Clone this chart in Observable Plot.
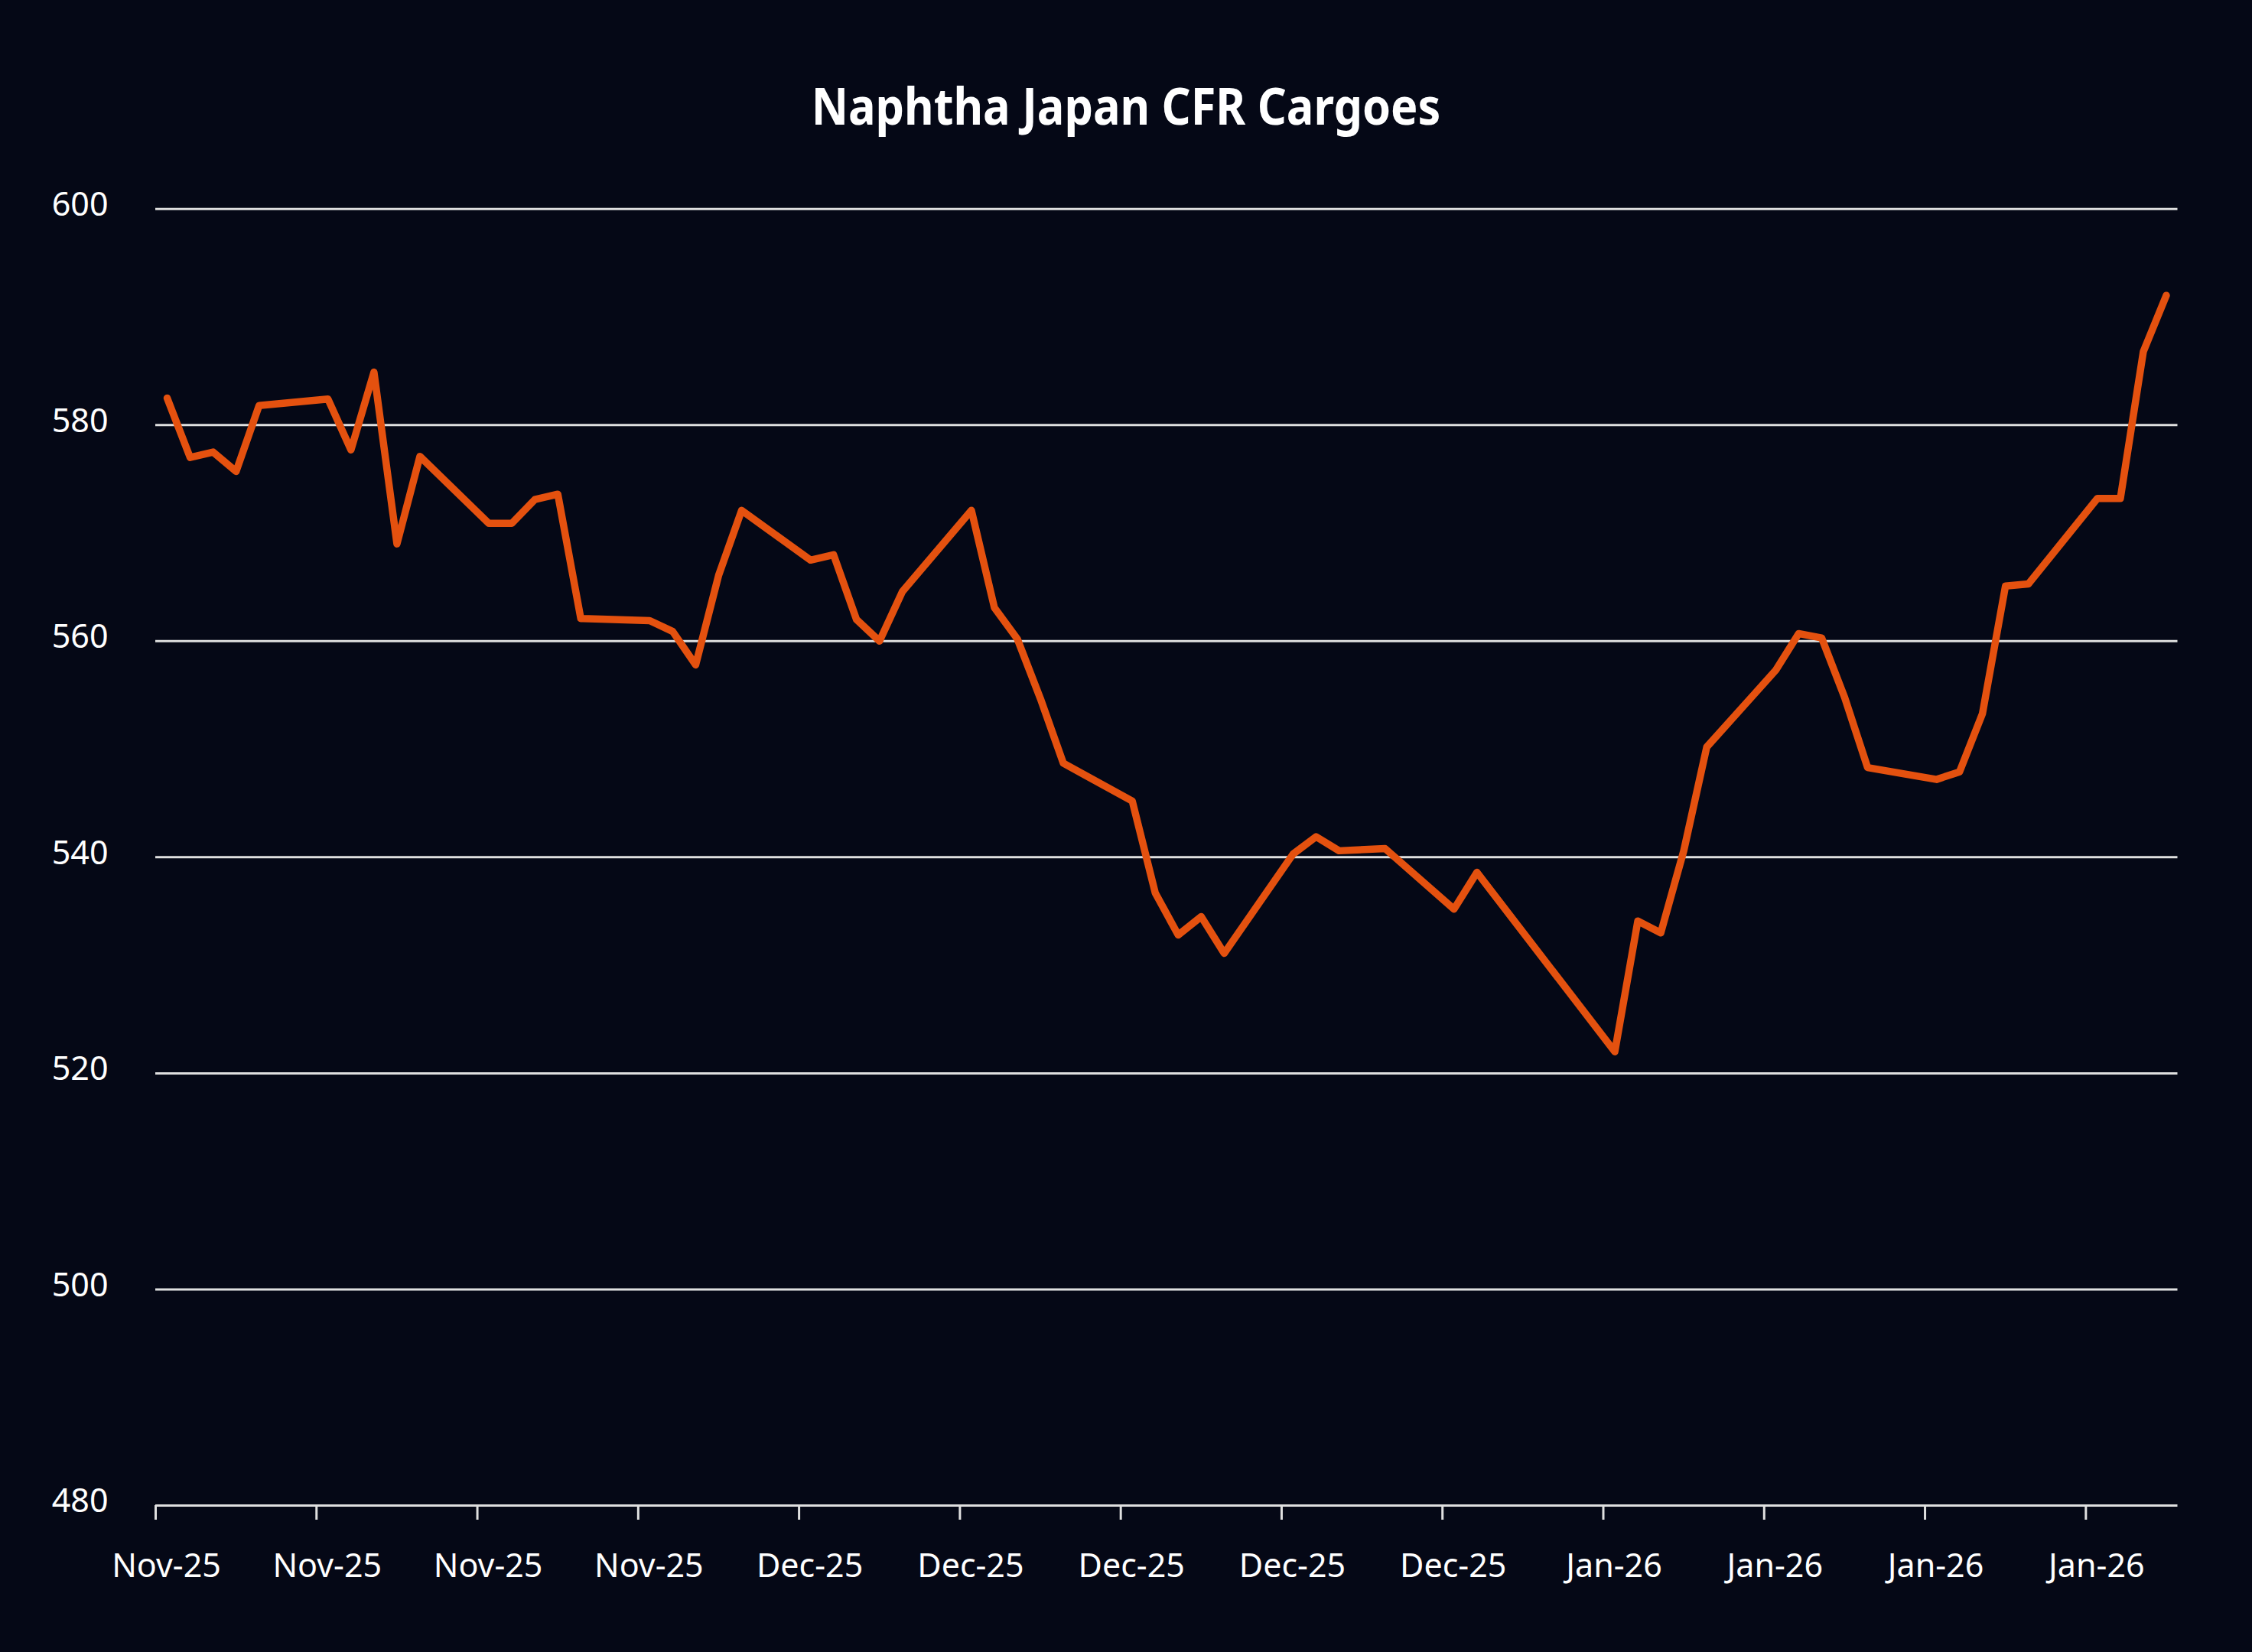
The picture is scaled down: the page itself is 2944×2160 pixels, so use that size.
<!DOCTYPE html>
<html>
<head>
<meta charset="utf-8">
<script src="https://cdn.jsdelivr.net/npm/d3@7"></script>
<script src="https://cdn.jsdelivr.net/npm/@observablehq/plot@0.6"></script>
<style>
  html, body { margin: 0; padding: 0; background: #050816; }
  #title {
    height: 200px; box-sizing: border-box; padding-top: 104px;
    font-family: "Noto Sans", sans-serif; font-weight: 700; font-size: 66px; line-height: 1;
    color: #ffffff; text-align: center;
  }
  #title span { display: inline-block; transform: scaleX(0.9); }
</style>
</head>
<body>
<div id="title"><span>Naphtha Japan CFR Cargoes</span></div>
<div id="chart"></div>
<script>
const titleText = "Naphtha Japan CFR Cargoes";

const dates = [
  "2025-11-03","2025-11-04","2025-11-05","2025-11-06","2025-11-07",
  "2025-11-10","2025-11-11","2025-11-12","2025-11-13","2025-11-14",
  "2025-11-17","2025-11-18","2025-11-19","2025-11-20","2025-11-21",
  "2025-11-24","2025-11-25","2025-11-26","2025-11-27","2025-11-28",
  "2025-12-01","2025-12-02","2025-12-03","2025-12-04","2025-12-05",
  "2025-12-08","2025-12-09","2025-12-10","2025-12-11","2025-12-12",
  "2025-12-15","2025-12-16","2025-12-17","2025-12-18","2025-12-19",
  "2025-12-22","2025-12-23","2025-12-24","2025-12-26",
  "2025-12-29","2025-12-30",
  "2026-01-05","2026-01-06","2026-01-07","2026-01-08","2026-01-09",
  "2026-01-12","2026-01-13","2026-01-14","2026-01-15","2026-01-16",
  "2026-01-19","2026-01-20","2026-01-21","2026-01-22","2026-01-23",
  "2026-01-26","2026-01-27","2026-01-28","2026-01-29"
];

const values = [
  582.5, 577.0, 577.5, 575.7, 581.8,
  582.4, 577.7, 584.9, 569.0, 577.1,
  570.9, 570.9, 573.1, 573.6, 562.1,
  561.9, 560.9, 557.8, 566.1, 572.1,
  567.5, 568.0, 562.0, 560.0, 564.6,
  572.1, 563.1, 560.2, 554.7, 548.7,
  545.2, 536.7, 532.8, 534.5, 531.1,
  540.3, 541.9, 540.6, 540.8,
  535.2, 538.6,
  522.0, 534.1, 533.0, 540.6, 550.2,
  557.3, 560.7, 560.3, 554.8, 548.3,
  547.2, 547.9, 553.3, 565.1, 565.3,
  573.2, 573.2, 586.8, 592.0
];

const xTickDates = [
  "2025-11-03","2025-11-10","2025-11-17","2025-11-24",
  "2025-12-01","2025-12-08","2025-12-15","2025-12-22","2025-12-29",
  "2026-01-05","2026-01-12","2026-01-19","2026-01-26"
];
const yTicks = [480, 500, 520, 540, 560, 580, 600];

const parse = s => new Date(s + "T00:00:00Z");
const table = dates.map((d, i) => ({date: new Date(parse(d).getTime() + 12 * 3600 * 1000), value: values[i]}));
const xTicks = xTickDates.map(parse);
const fmt = d3.utcFormat("%b-%y");

const font = "'Noto Sans', sans-serif";
const plot = Plot.plot({
  width: 2944,
  height: 1960,
  marginTop: 72.7,
  marginBottom: 192,
  marginLeft: 203,
  marginRight: 97.5,
  x: {type: "utc", domain: [parse("2025-11-03"), parse("2026-01-30")]},
  y: {domain: [480, 600]},
  style: {background: "transparent", color: "#ffffff", fontFamily: font, fontSize: "43px"},
  marks: [
    Plot.ruleY(yTicks, {stroke: "#e0e0e0", strokeWidth: 3}),
    Plot.axisY(yTicks, {tickSize: 0, tickPadding: 62, dy: -5, fontSize: 43, fill: "#ffffff", label: null}),
    Plot.axisX(xTicks, {tickSize: 19, tickFormat: () => "", stroke: "#e0e0e0", strokeWidth: 3, label: null}),
    Plot.axisX(xTicks, {tickSize: 0, tickPadding: 63, dx: 14, tickFormat: fmt, fontSize: 43, fill: "#ffffff", label: null}),
    Plot.lineY(table, {x: "date", y: "value", stroke: "#e4510f", strokeWidth: 9.5, strokeLinejoin: "round", strokeLinecap: "round"})
  ]
});
document.getElementById("chart").appendChild(plot);
</script>
</body>
</html>
